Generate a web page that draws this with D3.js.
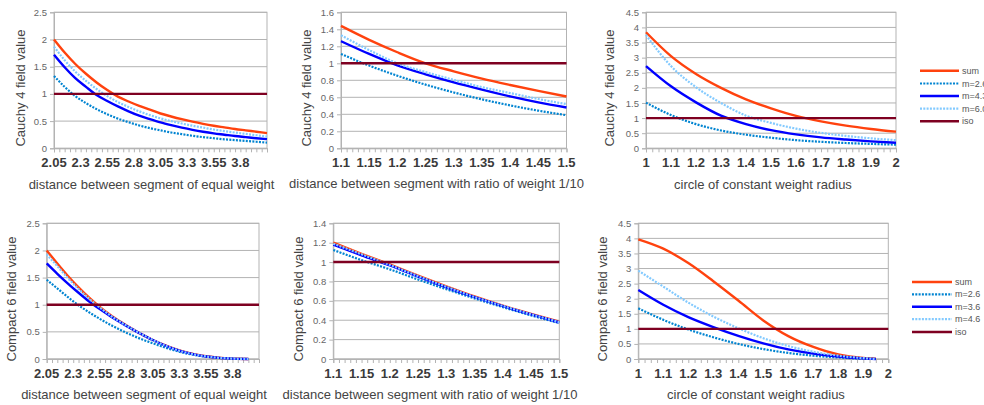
<!DOCTYPE html>
<html><head><meta charset="utf-8">
<script src="https://cdn.jsdelivr.net/npm/d3@7"></script>
<style>
body{margin:0;background:#fff}
svg{display:block}
text{font-family:"Liberation Sans", Arial, sans-serif}
</style>
</head><body>
<svg id="c" width="984" height="405"></svg>
<script>
// ---------- series names ----------
const namesTop = ["sum", "m=2.6", "m=4.3", "m=6.0", "iso"];
const namesBottom = ["sum", "m=2.6", "m=3.6", "m=4.6", "iso"];
const isoLevel = 1;

// ---------- x categories ----------
const xEq = [2.05,2.15,2.25,2.35,2.45,2.55,2.65,2.75,2.85,2.95,3.05,3.15,3.25,3.35,3.45,3.55,3.65,3.75,3.85,3.95,4.05];
const xEqC6 = [2.05,2.15,2.25,2.35,2.45,2.55,2.65,2.75,2.85,2.95,3.05,3.15,3.25,3.35,3.45,3.55,3.65,3.75,3.85,3.95];
const xRatio = [1.1,1.15,1.2,1.25,1.3,1.35,1.4,1.45,1.5];
const xCirc = [1,1.1,1.2,1.3,1.4,1.5,1.6,1.7,1.8,1.9,2];
const xCircC6 = [1,1.1,1.2,1.3,1.4,1.5,1.6,1.7,1.8,1.9,1.95];

// ---------- Cauchy 4: equal weight ----------
const cauchyEqSum = [2.00,1.76,1.55,1.37,1.21,1.07,0.95,0.86,0.78,0.71,0.64,0.585,0.535,0.49,0.45,0.415,0.385,0.355,0.33,0.305,0.28];
const cauchyEqM1  = [1.33,1.13,0.96,0.83,0.72,0.625,0.545,0.48,0.42,0.37,0.33,0.29,0.26,0.23,0.205,0.185,0.165,0.15,0.135,0.12,0.105];
const cauchyEqM2  = [1.72,1.49,1.29,1.13,0.98,0.87,0.77,0.68,0.60,0.535,0.475,0.425,0.38,0.34,0.305,0.275,0.25,0.225,0.205,0.185,0.168];
const cauchyEqM3  = [1.87,1.62,1.41,1.24,1.09,0.96,0.85,0.76,0.68,0.61,0.55,0.50,0.455,0.415,0.38,0.345,0.315,0.29,0.265,0.24,0.215];

// ---------- Cauchy 4: ratio 1/10 ----------
const cauchyRatioSum = [1.44,1.276,1.13,1.0,0.906,0.82,0.745,0.675,0.61];
const cauchyRatioM1  = [1.11,0.973,0.854,0.749,0.657,0.576,0.505,0.443,0.389];
const cauchyRatioM2  = [1.26,1.11,0.975,0.87,0.775,0.69,0.61,0.54,0.48];
const cauchyRatioM3  = [1.33,1.155,1.0,0.897,0.805,0.72,0.65,0.58,0.52];

// ---------- Cauchy 4: circle ----------
const cauchyCircSum = [3.84,3.05,2.46,2.0,1.62,1.32,1.07,0.89,0.75,0.64,0.55];
const cauchyCircM1  = [1.51,1.10,0.80,0.59,0.45,0.35,0.27,0.215,0.175,0.145,0.12];
const cauchyCircM2  = [2.72,2.05,1.52,1.08,0.80,0.60,0.46,0.36,0.29,0.23,0.185];
const cauchyCircM3  = [3.75,2.72,2.02,1.5,1.08,0.84,0.65,0.51,0.41,0.33,0.27];

// ---------- Compact 6: equal weight ----------
const compEqSum = [2.0,1.76,1.53,1.32,1.13,0.96,0.81,0.68,0.56,0.45,0.35,0.265,0.19,0.13,0.085,0.05,0.027,0.012,0.004,0];
const compEqM1  = [1.46,1.30,1.14,0.99,0.86,0.74,0.63,0.53,0.44,0.36,0.29,0.22,0.16,0.11,0.072,0.043,0.023,0.01,0.003,0];
const compEqM2  = [1.76,1.57,1.39,1.22,1.06,0.92,0.79,0.67,0.555,0.45,0.35,0.26,0.185,0.125,0.08,0.047,0.025,0.011,0.003,0];
const compEqM3  = [1.93,1.71,1.49,1.29,1.11,0.95,0.80,0.675,0.56,0.45,0.35,0.26,0.185,0.125,0.08,0.048,0.026,0.012,0.004,0];

// ---------- Compact 6: ratio 1/10 ----------
const compRatioSum = [1.2,1.085,0.975,0.86,0.75,0.645,0.55,0.465,0.385];
const compRatioM1  = [1.125,1.02,0.925,0.82,0.72,0.625,0.535,0.45,0.37];
const compRatioM2  = [1.18,1.07,0.965,0.85,0.74,0.638,0.545,0.46,0.378];
const compRatioM3  = [1.19,1.08,0.97,0.855,0.745,0.64,0.548,0.462,0.38];

// ---------- Compact 6: circle ----------
const compCircSum = [3.97,3.66,3.18,2.58,1.94,1.28,0.76,0.4,0.15,0.035,0.01];
const compCircM1  = [1.68,1.3,0.98,0.72,0.5,0.33,0.2,0.11,0.05,0.01,0];
const compCircM2  = [2.29,1.8,1.39,1.06,0.77,0.52,0.32,0.18,0.085,0.02,0];
const compCircM3  = [2.93,2.4,1.87,1.41,1.02,0.69,0.43,0.24,0.11,0.03,0];

// ---------- tick values / labels ----------
const yTicksEq = [0,0.5,1,1.5,2,2.5];
const yTicksRatio = [0,0.2,0.4,0.6,0.8,1,1.2,1.4,1.6];
const yTicksCirc = [0,0.5,1,1.5,2,2.5,3,3.5,4,4.5];
const yTicksCompRatio = [0,0.2,0.4,0.6,0.8,1,1.2,1.4];
const xLabelsEq = ["2.05","2.3","2.55","2.8","3.05","3.3","3.55","3.8"];
const xLabelsRatio = ["1.1","1.15","1.2","1.25","1.3","1.35","1.4","1.45","1.5"];
const xLabelsCirc = ["1","1.1","1.2","1.3","1.4","1.5","1.6","1.7","1.8","1.9","2"];
const xDomainEq = [2.05, 4.05];
const xDomainRatio = [1.1, 1.5];
const xDomainCirc = [1, 2];
const categoryCount = 41;

const yTitleTop = "Cauchy 4 field value";
const yTitleBottom = "Compact 6 field value";
const xTitleEq = "distance between segment of equal weight";
const xTitleRatio = "distance between segment with ratio of weight 1/10";
const xTitleCirc = "circle of constant weight radius";

// ---------- styles ----------
const seriesColors = ["#ff420e", "#0084d1", "#0000ff", "#83caff", "#7e0021"];
const seriesDash = [null, "2,1.3", null, "2,1.3", null];
const seriesWidth = [2.4, 2.2, 2.4, 2.2, 2.4];
const gridColor = "#b3b3b3";

const svg = d3.select("#c");

const panels = [
  {left:54, right:267, top:12.3, bottom:148.3, xDomain:xDomainEq, yTicks:yTicksEq, xLabels:xLabelsEq,
   series:[[xEq,cauchyEqSum],[xEq,cauchyEqM1],[xEq,cauchyEqM2],[xEq,cauchyEqM3]],
   yTitle:yTitleTop, yTitleX:20, yTitleY:88, xTitle:xTitleEq, xTitleX:151.5, xTitleY:189},
  {left:341, right:566.5, top:12.3, bottom:148.3, xDomain:xDomainRatio, yTicks:yTicksRatio, xLabels:xLabelsRatio,
   series:[[xRatio,cauchyRatioSum],[xRatio,cauchyRatioM1],[xRatio,cauchyRatioM2],[xRatio,cauchyRatioM3]],
   yTitle:yTitleTop, yTitleX:306.5, yTitleY:88, xTitle:xTitleRatio, xTitleX:436.5, xTitleY:188},
  {left:646, right:896, top:12.3, bottom:148.3, xDomain:xDomainCirc, yTicks:yTicksCirc, xLabels:xLabelsCirc,
   series:[[xCirc,cauchyCircSum],[xCirc,cauchyCircM1],[xCirc,cauchyCircM2],[xCirc,cauchyCircM3]],
   yTitle:yTitleTop, yTitleX:609, yTitleY:88, xTitle:xTitleCirc, xTitleX:763, xTitleY:188.5},
  {left:46.7, right:259, top:223.3, bottom:359, xDomain:xDomainEq, yTicks:yTicksEq, xLabels:xLabelsEq,
   series:[[xEqC6,compEqSum],[xEqC6,compEqM1],[xEqC6,compEqM2],[xEqC6,compEqM3]],
   yTitle:yTitleBottom, yTitleX:11.7, yTitleY:299, xTitle:xTitleEq, xTitleX:144, xTitleY:399},
  {left:333.3, right:559.3, top:223.3, bottom:359, xDomain:xDomainRatio, yTicks:yTicksCompRatio, xLabels:xLabelsRatio,
   series:[[xRatio,compRatioSum],[xRatio,compRatioM1],[xRatio,compRatioM2],[xRatio,compRatioM3]],
   yTitle:yTitleBottom, yTitleX:298, yTitleY:299, xTitle:xTitleRatio, xTitleX:430, xTitleY:398.5},
  {left:638.3, right:888.3, top:223.3, bottom:359, xDomain:xDomainCirc, yTicks:yTicksCirc, xLabels:xLabelsCirc,
   series:[[xCircC6,compCircSum],[xCircC6,compCircM1],[xCircC6,compCircM2],[xCircC6,compCircM3]],
   yTitle:yTitleBottom, yTitleX:602, yTitleY:299, xTitle:xTitleCirc, xTitleX:756, xTitleY:399}
];

panels.forEach(p => {
  const g = svg.append("g");
  const x = d3.scaleLinear().domain(p.xDomain).range([p.left, p.right]);
  const yMax = p.yTicks[p.yTicks.length - 1];
  const y = d3.scaleLinear().domain([0, yMax]).range([p.bottom, p.top]);

  // gridlines
  g.append("g").selectAll("line").data(p.yTicks).join("line")
    .attr("x1", p.left).attr("x2", p.right)
    .attr("y1", d => y(d)).attr("y2", d => y(d))
    .attr("stroke", gridColor).attr("stroke-width", 1);
  // plot frame
  g.append("rect").attr("x", p.left).attr("y", p.top)
    .attr("width", p.right - p.left).attr("height", p.bottom - p.top)
    .attr("fill", "none").attr("stroke", gridColor).attr("stroke-width", 1);

  // y axis
  const ya = g.append("g").attr("transform", `translate(${p.left},0)`)
    .call(d3.axisLeft(y).tickValues(p.yTicks).tickSize(4).tickPadding(3).tickFormat(d => String(d)));
  ya.select(".domain").attr("stroke", gridColor);
  ya.selectAll(".tick line").attr("stroke", gridColor);
  ya.selectAll(".tick text").attr("font-family", '"Liberation Sans", Arial, sans-serif')
    .attr("font-size", 9.5).attr("fill", "#666");

  // x axis minor ticks (one per category)
  const step = (p.xDomain[1] - p.xDomain[0]) / (categoryCount - 1);
  const catTicks = d3.range(categoryCount).map(i => p.xDomain[0] + i * step);
  const xa = g.append("g").attr("transform", `translate(0,${p.bottom})`)
    .call(d3.axisBottom(x).tickValues(catTicks).tickSize(4).tickFormat(""));
  xa.select(".domain").attr("stroke", gridColor);
  xa.selectAll(".tick line").attr("stroke", gridColor);

  // x tick labels
  g.append("g").selectAll("text").data(p.xLabels).join("text")
    .attr("x", d => x(+d)).attr("y", p.bottom + 19)
    .attr("text-anchor", "middle").attr("font-size", 13).attr("font-weight", "bold")
    .attr("fill", "#3a3a3a").text(d => d);

  // series lines
  const line = d3.line().x(d => x(d[0])).y(d => y(d[1])).curve(d3.curveMonotoneX);
  p.series.forEach((s, i) => {
    const pts = s[0].map((xv, k) => [xv, s[1][k]]);
    g.append("path").datum(pts).attr("d", line)
      .attr("fill", "none").attr("stroke", seriesColors[i])
      .attr("stroke-width", seriesWidth[i])
      .attr("stroke-dasharray", seriesDash[i]);
  });
  // iso line
  g.append("path").datum([[p.xDomain[0], isoLevel], [p.xDomain[1], isoLevel]])
    .attr("d", d3.line().x(d => x(d[0])).y(d => y(d[1])))
    .attr("fill", "none").attr("stroke", seriesColors[4]).attr("stroke-width", seriesWidth[4]);

  // titles
  g.append("text").attr("transform", `translate(${p.yTitleX},${p.yTitleY}) rotate(-90)`)
    .attr("text-anchor", "middle").attr("dy", "0.35em")
    .attr("font-size", 13).attr("fill", "#444").text(p.yTitle);
  g.append("text").attr("x", p.xTitleX).attr("y", p.xTitleY)
    .attr("text-anchor", "middle").attr("font-size", 13).attr("fill", "#444").text(p.xTitle);
});

// legends
function legend(names, x1, x2, ys) {
  const lg = svg.append("g");
  names.forEach((n, i) => {
    lg.append("line").attr("x1", x1).attr("x2", x2).attr("y1", ys[i]).attr("y2", ys[i])
      .attr("stroke", seriesColors[i]).attr("stroke-width", seriesWidth[i])
      .attr("stroke-dasharray", seriesDash[i]);
    lg.append("text").attr("x", x2 + 3).attr("y", ys[i]).attr("dy", "0.35em")
      .attr("font-size", 9).attr("fill", "#555").text(n);
  });
}
legend(namesTop, 920, 959, [70.7, 83.5, 96, 108.7, 121.3]);
legend(namesBottom, 912, 952, [282, 294.3, 306.7, 319.2, 332]);
</script>
</body></html>
